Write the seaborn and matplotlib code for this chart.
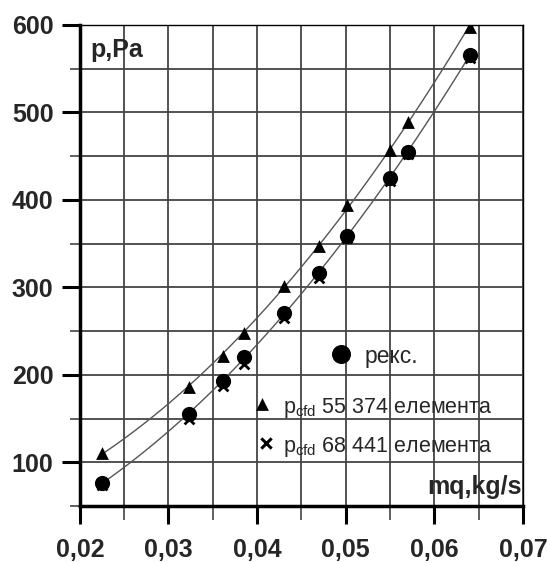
import matplotlib
matplotlib.use('Agg')
import matplotlib.pyplot as plt
import pandas as pd
import seaborn as sns
from matplotlib.ticker import MultipleLocator, FuncFormatter

# mass flow, kg/s
mq = [0.0225, 0.0323, 0.0361, 0.0385, 0.043, 0.047, 0.0502, 0.055, 0.057, 0.064]
# pressure drop, Pa
p_cfd_55374 = [111, 186, 222, 248, 301, 347, 394, 457, 489, 598]
p_eks = [76, 155, 193, 220, 271, 316, 359, 425, 455, 566]
p_cfd_68441 = [74, 150, 187, 212, 265, 311, 356, 422, 452, 562]

legend_labels = ['pекс.', 'p$_{\\rm cfd}$ 55 374 елемента', 'p$_{\\rm cfd}$ 68 441 елемента']

df = pd.DataFrame({'mq': mq, 'p55': p_cfd_55374, 'peks': p_eks, 'p68': p_cfd_68441})

sns.set_style('ticks')
plt.rcParams['font.family'] = ['Liberation Sans', 'DejaVu Sans']
plt.rcParams['mathtext.fontset'] = 'custom'
plt.rcParams['mathtext.rm'] = 'Liberation Sans'

fig = plt.figure(figsize=(5.47, 5.63), dpi=100)
ax = fig.add_axes([0.146, 0.101, 0.81, 0.855])

line_kw = {'lw': 1.0, 'color': '#555555'}
sns.regplot(data=df, x='mq', y='p55', order=2, ci=None, scatter=False, line_kws=line_kw, ax=ax)
sns.regplot(data=df, x='mq', y='peks', order=2, ci=None, scatter=False, line_kws=line_kw, ax=ax)

sns.scatterplot(data=df, x='mq', y='p68', marker='x', s=50, color='black', linewidth=2, ax=ax, zorder=3)
sns.scatterplot(data=df, x='mq', y='peks', marker='o', s=120, color='black', linewidth=0, ax=ax, zorder=4)
sns.scatterplot(data=df, x='mq', y='p55', marker='^', s=85, color='black', linewidth=0, ax=ax, zorder=4)

# hand-placed legend inside the plot
ax.scatter([0.0495], [224], marker='o', s=160, color='black', zorder=5)
ax.scatter([0.0405], [167], marker='^', s=85, color='black', linewidths=0, zorder=5)
ax.scatter([0.041], [122], marker='x', s=55, color='black', linewidths=2.2, zorder=5)
ax.text(0.0521, 213, legend_labels[0], fontsize=16.5, va='baseline')
ax.text(0.0429, 156, legend_labels[1], fontsize=15.5, va='baseline')
ax.text(0.0429, 112, legend_labels[2], fontsize=15.5, va='baseline')

ax.set_xlim(0.02, 0.07)
ax.set_ylim(50, 600)
ax.xaxis.set_major_locator(MultipleLocator(0.01))
ax.xaxis.set_minor_locator(MultipleLocator(0.005))
ax.yaxis.set_major_locator(MultipleLocator(100))
ax.yaxis.set_minor_locator(MultipleLocator(50))
ax.xaxis.set_major_formatter(FuncFormatter(lambda v, pos: f'{v:.2f}'.replace('.', ',')))
ax.yaxis.set_major_formatter(FuncFormatter(lambda v, pos: f'{v:.0f}'))

ax.grid(which='both', color='#444444', lw=1.3)
ax.set_axisbelow(True)
for side in ['left', 'bottom']:
    ax.spines[side].set_linewidth(2.5)
for side in ['top', 'right']:
    ax.spines[side].set_linewidth(1.0)
for sp in ax.spines.values():
    sp.set_color('black')

ax.tick_params(which='major', length=13, width=2.2, direction='out', color='black', labelsize=18)
ax.tick_params(which='minor', length=7, width=1.2, direction='out', color='#444444')
ax.tick_params(axis='x', which='major', pad=10)
ax.tick_params(axis='x', which='minor', length=10)
ax.tick_params(axis='y', which='major', pad=6)
for lab in ax.get_xticklabels() + ax.get_yticklabels():
    lab.set_fontweight('bold')

ax.set_xlabel('')
ax.set_ylabel('')
ax.text(0.023, 0.948, 'p,Pa', transform=ax.transAxes, fontsize=18, fontweight='bold', va='center')
ax.text(0.997, 0.04, 'mq,kg/s', transform=ax.transAxes, fontsize=18, fontweight='bold', va='center', ha='right')

fig.savefig('out.png', dpi=100)
